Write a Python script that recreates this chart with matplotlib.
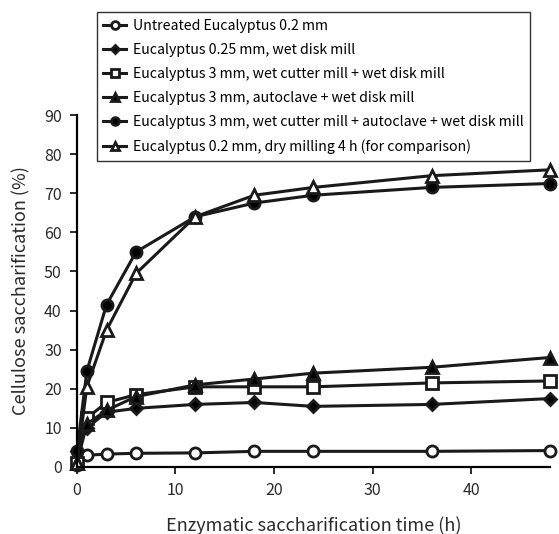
import matplotlib.pyplot as plt

plt.rcParams['font.family'] = ['Noto Sans CJK JP', 'DejaVu Sans']

# sampling times (h)
time_h = [0, 1, 3, 6, 12, 18, 24, 36, 48]

untreated = [0.5, 3.0, 3.3, 3.5, 3.6, 4.0, 4.0, 4.0, 4.2]
disk_025 = [4.0, 10.0, 14.0, 15.0, 16.0, 16.5, 15.5, 16.0, 17.5]
cutter_disk = [1.0, 12.5, 16.5, 18.5, 20.5, 20.5, 20.5, 21.5, 22.0]
autoclave_disk = [1.0, 11.0, 14.5, 18.0, 21.0, 22.5, 24.0, 25.5, 28.0]
cutter_autoclave_disk = [4.0, 24.5, 41.5, 55.0, 64.0, 67.5, 69.5, 71.5, 72.5]
dry_milling = [1.0, 20.5, 35.0, 49.5, 64.0, 69.5, 71.5, 74.5, 76.0]

labels = [
    "Untreated Eucalyptus 0.2 mm",
    "Eucalyptus 0.25 mm, wet disk mill",
    "Eucalyptus 3 mm, wet cutter mill + wet disk mill",
    "Eucalyptus 3 mm, autoclave + wet disk mill",
    "Eucalyptus 3 mm, wet cutter mill + autoclave + wet disk mill",
    "Eucalyptus 0.2 mm, dry milling 4 h (for comparison)",
]

fig = plt.figure(figsize=(5.59, 5.34), dpi=100)
ax = fig.add_axes([0.1377, 0.1255, 0.846, 0.659])

series = [untreated, disk_025, cutter_disk, autoclave_disk, cutter_autoclave_disk, dry_milling]
markers = ['o', 'D', 's', '^', 'o', '^']
faces = ['white', 'black', 'white', 'black', 'black', 'white']
sizes = [8, 6, 8, 8.5, 8, 9]

for y, m, fc, ms, lab in zip(series, markers, faces, sizes, labels):
    ax.plot(time_h, y, color='#1a1a1a', lw=2.2, marker=m, ms=ms, mfc=fc,
            mec='#1a1a1a', mew=2, label=lab, clip_on=False)

ax.set_xlim(0, 48)
ax.set_ylim(0, 90)
ax.set_xticks(range(0, 41, 10))
ax.set_yticks(range(0, 91, 10))
ax.spines['top'].set_visible(False)
ax.spines['right'].set_visible(False)
ax.spines['left'].set_linewidth(1.6)
ax.spines['bottom'].set_linewidth(1.6)
ax.tick_params(direction='out', length=5, width=1.4, labelsize=11.5, colors='#2a2a2a', pad=6)

ax.set_xlabel("Enzymatic saccharification time (h)", fontsize=13, color='#2a2a2a', labelpad=12)
ax.set_ylabel("Cellulose saccharification (%)", fontsize=13, color='#2a2a2a', labelpad=10)

handles, labs = ax.get_legend_handles_labels()
leg = fig.legend(handles, labs, loc='upper left', bbox_to_anchor=(0.1735, 0.977),
                 fontsize=10.2, frameon=True, fancybox=False, edgecolor='black',
                 handlelength=1.6, handletextpad=0.5, labelspacing=0.72,
                 borderpad=0.45, borderaxespad=0, markerscale=0.7)
leg.get_frame().set_linewidth(1.0)

fig.savefig("out.png", dpi=100)
